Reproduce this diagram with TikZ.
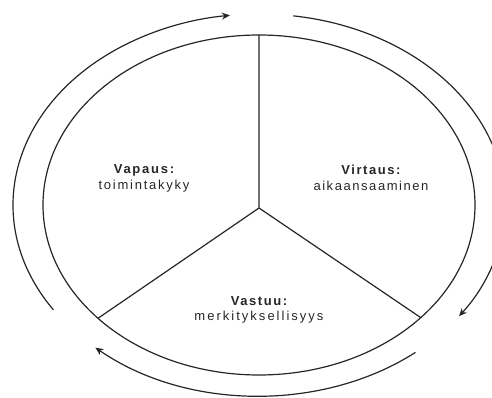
\documentclass[tikz,border=0pt]{standalone}
\usepackage{fontspec}
\setmainfont{Liberation Sans}
\newfontfamily\lblA{Liberation Sans}[LetterSpace=12]
\newfontfamily\lblB{Liberation Sans}[LetterSpace=13.5]
\newfontfamily\lblC{Liberation Sans}[LetterSpace=15.5]
\usetikzlibrary{arrows.meta}
\begin{document}
\begin{tikzpicture}[x=1pt,y=1pt,
  ln/.style={line width=1.2pt, draw=black!85},
  cyc/.style={ln, -{Stealth[length=8pt,width=7pt]}},
  lbl/.style={align=center, font=\fontsize{13}{16}\selectfont, text=black!85, inner sep=0pt}]
\useasboundingbox (0,0) rectangle (492,398);
\coordinate (c) at (259,193);
\coordinate (j) at (259,190);
\draw[ln] (c) ellipse [x radius=216pt, y radius=170pt];
\coordinate (bl) at ([shift={(221.8:216pt and 170pt)}]c);
\coordinate (br) at ([shift={(318.5:216pt and 170pt)}]c);
\coordinate (top) at ([shift={(90:216pt and 170pt)}]c);
\draw[ln] (top) -- (j) -- (bl);
\draw[ln] (j) -- (br);
\draw[cyc] ([shift={(213.3:246pt and 191pt)}]c) arc[start angle=213.3, end angle=96.8, x radius=246pt, y radius=191pt];
\draw[cyc] ([shift={(82:246pt and 191pt)}]c) arc[start angle=82, end angle=-35.6, x radius=246pt, y radius=191pt];
\draw[cyc] ([shift={(-50.5:246pt and 191pt)}]c) arc[start angle=-50.5, end angle=-131.7, x radius=246pt, y radius=191pt];
\node[lbl] (vapaus) at (144,220) {{\lblB\bfseries Vapaus:}\\{\lblB toimintakyky}};
\node[lbl] (virtaus) at (371,220) {{\lblA\bfseries Virtaus:}\\{\lblA aikaansaaminen}};
\node[lbl, font=\fontsize{13}{15}\selectfont] (vastuu) at (259,88) {{\lblA\bfseries Vastuu:}\\{\lblC merkityksellisyys}};
\end{tikzpicture}
\end{document}
